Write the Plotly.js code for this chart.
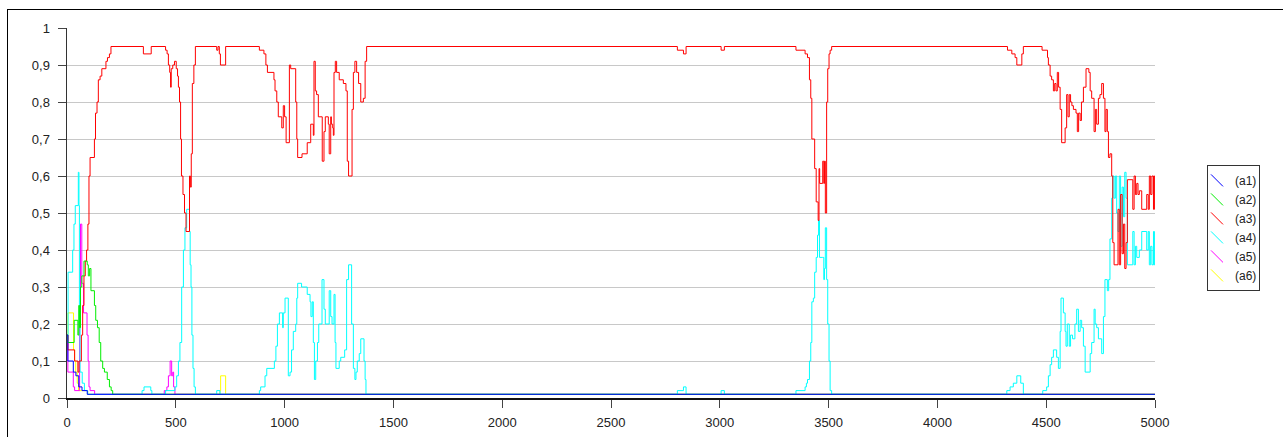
<!DOCTYPE html>
<html>
<head>
<meta charset="utf-8">
<script src="https://cdn.plot.ly/plotly-3.0.1.min.js"></script>
<style>
  html, body { margin: 0; padding: 0; background: #fff; overflow: hidden; }
  #wrap { position: relative; width: 1283px; height: 437px; }
  #chart { width: 1283px; height: 437px; }
  #frame { position: absolute; left: 7px; top: 9px; width: 1300px; height: 500px;
           border-left: 1.5px solid #000; border-top: 1.5px solid #000; pointer-events: none; }
</style>
</head>
<body>
<div id="wrap"><div id="chart"></div><div id="frame"></div></div>
<script>
// ---- data ----
const seriesNames = ['(a1)', '(a2)', '(a3)', '(a4)', '(a5)', '(a6)'];

const a1X = [0, 4, 29, 41, 54, 69, 93, 5000];
const a1Y = [0.17, 0.10, 0.07, 0.06, 0.03, 0.02, 0.01, 0.01];

const a2X = [0, 4, 33, 50, 54, 58, 62, 68, 78, 93, 98, 104, 110, 126, 132, 140, 148, 155, 164, 172, 185, 195, 203, 210, 5000];
const a2Y = [0.17, 0.15, 0.21, 0.17, 0.25, 0.19, 0.30, 0.33, 0.37, 0.36, 0.33, 0.35, 0.29, 0.25, 0.21, 0.19, 0.15, 0.10, 0.08, 0.07, 0.05, 0.03, 0.02, 0.01, 0.01];

const a3X = [0, 4, 35, 50, 55, 66, 72, 78, 84, 90, 96, 101, 106, 126, 131, 138, 144, 152, 160, 179, 186, 195, 202,
  351, 387, 453, 460, 466, 472, 476, 479, 486, 494, 502, 508, 512, 517, 522, 526, 533, 540, 547, 563, 567, 571, 576, 583, 590,
  688, 694, 700, 705, 729, 884, 905, 914, 921, 951, 956, 964, 971, 987, 994, 1000, 1007, 1022, 1028, 1051, 1056, 1060, 1080,
  1104, 1120, 1132, 1135, 1141, 1147, 1155, 1173, 1181, 1187, 1201, 1205, 1212, 1215, 1221, 1224, 1227, 1233, 1239, 1251,
  1270, 1282, 1288, 1294, 1310, 1316, 1323, 1331, 1340, 1350, 1362, 1370, 1377,
  2805, 2833, 2845, 3006, 3021,
  3350, 3392, 3403, 3412, 3418, 3423, 3436, 3443, 3452, 3456, 3459, 3473, 3478, 3481, 3485, 3491, 3496, 3502, 3507, 3514,
  4322, 4342, 4357, 4365, 4388, 4395, 4481, 4506, 4510, 4518, 4525, 4533, 4539, 4545, 4551, 4557, 4564, 4571, 4587, 4594,
  4600, 4606, 4612, 4618, 4625, 4637, 4643, 4649, 4656, 4662, 4671, 4683, 4696, 4702, 4709, 4720, 4726, 4732, 4740, 4747,
  4755, 4763, 4770, 4775, 4781, 4786, 4793, 4801, 4806, 4812, 4830, 4836, 4842, 4849, 4855, 4861, 4867, 4873, 4898, 4904,
  4910, 4916, 4922, 4928, 4939, 4962, 4969, 4974, 4980, 4986, 4993, 4997, 5000];
const a3Y = [0.17, 0.13, 0.10, 0.07, 0.10, 0.17, 0.25, 0.33, 0.37, 0.40, 0.47, 0.60, 0.65, 0.70, 0.77, 0.80, 0.86, 0.87, 0.89, 0.91, 0.92, 0.93, 0.95,
  0.93, 0.95, 0.94, 0.93, 0.90, 0.88, 0.84, 0.89, 0.90, 0.91, 0.89, 0.87, 0.84, 0.80, 0.70, 0.60, 0.55, 0.50, 0.45, 0.60, 0.57, 0.66, 0.85, 0.90, 0.95,
  0.94, 0.95, 0.93, 0.90, 0.95, 0.94, 0.93, 0.90, 0.88, 0.86, 0.83, 0.80, 0.76, 0.73, 0.79, 0.76, 0.69, 0.90, 0.89, 0.80, 0.70, 0.65, 0.66,
  0.69, 0.74, 0.71, 0.91, 0.83, 0.82, 0.76, 0.64, 0.72, 0.76, 0.74, 0.66, 0.76, 0.74, 0.73, 0.71, 0.88, 0.91, 0.88, 0.86,
  0.85, 0.83, 0.64, 0.60, 0.78, 0.88, 0.91, 0.88, 0.85, 0.80, 0.81, 0.91, 0.95,
  0.94, 0.93, 0.95, 0.94, 0.95,
  0.94, 0.93, 0.92, 0.86, 0.81, 0.70, 0.62, 0.53, 0.48, 0.62, 0.58, 0.64, 0.58, 0.64, 0.50, 0.80, 0.89, 0.93, 0.94, 0.95,
  0.94, 0.93, 0.92, 0.90, 0.93, 0.95, 0.94, 0.92, 0.90, 0.87, 0.86, 0.83, 0.85, 0.83, 0.88, 0.84, 0.78, 0.69, 0.73, 0.82,
  0.76, 0.82, 0.80, 0.79, 0.78, 0.77, 0.72, 0.77, 0.75, 0.80, 0.84, 0.89, 0.88, 0.83, 0.81, 0.72, 0.78, 0.74, 0.81, 0.82,
  0.85, 0.81, 0.72, 0.78, 0.72, 0.65, 0.66, 0.60, 0.42, 0.36, 0.51, 0.36, 0.55, 0.39, 0.47, 0.35, 0.42, 0.59, 0.51, 0.60,
  0.55, 0.58, 0.55, 0.56, 0.51, 0.55, 0.51, 0.60, 0.55, 0.60, 0.51, 0.60, 0.51];

const a4X = [0, 5, 26, 32, 38, 52, 55, 57, 60, 70, 80, 95,
  345, 354, 385, 390, 453, 496, 504, 512, 519, 527, 535, 542, 550, 563, 566, 570, 574, 579, 584, 590, 688, 703,
  884, 890, 910, 918, 953, 960, 967, 976, 991, 994, 1002, 1017, 1025, 1032, 1040, 1051, 1056, 1060, 1078, 1104, 1117, 1121,
  1127, 1132, 1137, 1143, 1151, 1157, 1172, 1181, 1187, 1205, 1212, 1218, 1227, 1232, 1236, 1251, 1258, 1276, 1285, 1294,
  1308, 1316, 1323, 1328, 1334, 1343, 1350, 1365, 1370, 1374,
  2805, 2833, 2845, 3006, 3021,
  3350, 3392, 3398, 3403, 3412, 3418, 3423, 3430, 3436, 3443, 3449, 3454, 3458, 3473, 3478, 3481, 3485, 3491, 3496, 3502, 3507, 3514,
  4319, 4334, 4349, 4365, 4383, 4395, 4484, 4502, 4510, 4518, 4525, 4533, 4548, 4556, 4564, 4568, 4579, 4587, 4591, 4597,
  4606, 4612, 4621, 4632, 4640, 4648, 4656, 4663, 4671, 4679, 4702, 4709, 4720, 4725, 4732, 4740, 4755, 4763, 4770, 4781,
  4787, 4793, 4801, 4806, 4812, 4818, 4824, 4830, 4836, 4842, 4849, 4855, 4861, 4867, 4873, 4898, 4904, 4910, 4916, 4928,
  4939, 4962, 4969, 4974, 4980, 4986, 4993, 4997, 5000];
const a4Y = [0.17, 0.34, 0.40, 0.47, 0.52, 0.61, 0.52, 0.20, 0.07, 0.04, 0.02, 0.01,
  0.02, 0.03, 0.02, 0.01, 0.02, 0.03, 0.06, 0.10, 0.15, 0.30, 0.40, 0.46, 0.51, 0.45, 0.36, 0.30, 0.17, 0.08, 0.03, 0.01, 0.02, 0.01,
  0.02, 0.03, 0.06, 0.08, 0.10, 0.14, 0.20, 0.23, 0.19, 0.23, 0.27, 0.06, 0.07, 0.13, 0.18, 0.20, 0.27, 0.31, 0.30, 0.28, 0.26, 0.22,
  0.26, 0.15, 0.05, 0.10, 0.15, 0.20, 0.32, 0.24, 0.20, 0.29, 0.22, 0.20, 0.28, 0.15, 0.08, 0.10, 0.11, 0.13, 0.32, 0.36,
  0.20, 0.08, 0.05, 0.07, 0.10, 0.12, 0.16, 0.10, 0.05, 0.01,
  0.02, 0.03, 0.01, 0.02, 0.01,
  0.02, 0.03, 0.04, 0.05, 0.10, 0.15, 0.26, 0.27, 0.34, 0.38, 0.44, 0.48, 0.38, 0.38, 0.32, 0.35, 0.46, 0.32, 0.20, 0.10, 0.02, 0.01,
  0.02, 0.03, 0.04, 0.06, 0.04, 0.01, 0.02, 0.03, 0.06, 0.09, 0.11, 0.13, 0.11, 0.08, 0.18, 0.27, 0.23, 0.18, 0.14, 0.20,
  0.14, 0.17, 0.16, 0.20, 0.24, 0.18, 0.21, 0.19, 0.14, 0.07, 0.12, 0.15, 0.24, 0.20, 0.19, 0.16, 0.12, 0.22, 0.32, 0.29,
  0.32, 0.43, 0.54, 0.60, 0.54, 0.60, 0.50, 0.45, 0.60, 0.41, 0.57, 0.49, 0.61, 0.54, 0.36, 0.45, 0.36, 0.41, 0.38, 0.40,
  0.45, 0.40, 0.45, 0.36, 0.41, 0.36, 0.45, 0.36, 0.45];

const a5X = [0, 4, 29, 35, 58, 62, 68, 76, 92, 97, 101, 106, 127, 447, 459, 466, 474, 481, 486, 490, 496, 5000];
const a5Y = [0.17, 0.07, 0.03, 0.02, 0.20, 0.47, 0.31, 0.23, 0.17, 0.10, 0.03, 0.02, 0.01, 0.02, 0.03, 0.06, 0.10, 0.06, 0.07, 0.03, 0.01, 0.01];

const a6X = [0, 4, 30, 35, 40, 47, 53, 95, 703, 706, 729, 5000];
const a6Y = [0.17, 0.23, 0.13, 0.10, 0.07, 0.04, 0.02, 0.01, 0.02, 0.06, 0.01, 0.01];

const xTickVals = [0, 500, 1000, 1500, 2000, 2500, 3000, 3500, 4000, 4500, 5000];
const xTickText = ['0', '500', '1000', '1500', '2000', '2500', '3000', '3500', '4000', '4500', '5000'];
const yTickVals = [0, 0.1, 0.2, 0.3, 0.4, 0.5, 0.6, 0.7, 0.8, 0.9, 1];
const yTickText = ['0', '0,1', '0,2', '0,3', '0,4', '0,5', '0,6', '0,7', '0,8', '0,9', '1'];

// ---- styling ----
const seriesColors = ['#0000ff', '#00ee00', '#ff0000', '#00ffff', '#ff00ff', '#ffff00'];
const xs = [a1X, a2X, a3X, a4X, a5X, a6X];
const ys = [a1Y, a2Y, a3Y, a4Y, a5Y, a6Y];

const traces = [];
for (let i = seriesNames.length - 1; i >= 0; i--) {
  traces.push({
    type: 'scatter', mode: 'lines', name: seriesNames[i],
    x: xs[i], y: ys[i],
    line: { color: seriesColors[i], width: 1, shape: 'hv' },
    hoverinfo: 'skip'
  });
}

const font = { family: 'Liberation Sans, Arial, sans-serif', size: 13, color: '#222' };

const layout = {
  width: 1283, height: 437,
  margin: { l: 67, r: 128, t: 28, b: 39, pad: 0, autoexpand: false },
  paper_bgcolor: '#fff', plot_bgcolor: '#fff',
  font: font,
  showlegend: true,
  legend: {
    x: 1.0478, y: 0.63, xanchor: 'left', yanchor: 'top',
    traceorder: 'reversed',
    bgcolor: '#fff', bordercolor: '#333', borderwidth: 1,
    font: { family: 'Liberation Sans, Arial, sans-serif', size: 12, color: '#222' },
    itemwidth: 30, tracegroupgap: 0
  },
  xaxis: {
    range: [0, 5000], tickmode: 'array', tickvals: xTickVals, ticktext: xTickText,
    showgrid: false, zeroline: false,
    showline: true, linecolor: '#111', linewidth: 1.5,
    ticks: 'outside', ticklen: 8, tickwidth: 1, tickcolor: '#444',
    ticklabelstandoff: 4, tickfont: font, fixedrange: true
  },
  yaxis: {
    range: [0, 1], tickmode: 'array', tickvals: yTickVals, ticktext: yTickText,
    showgrid: true, gridcolor: '#c8c8c8', gridwidth: 1, zeroline: false,
    showline: true, linecolor: '#333', linewidth: 1.5,
    ticks: 'outside', ticklen: 8, tickwidth: 1, tickcolor: '#444',
    ticklabelstandoff: 5, tickfont: font, fixedrange: true
  }
};

Plotly.newPlot('chart', traces, layout, { staticPlot: true, displayModeBar: false }).then(function (gd) {
  // make legend samples diagonal and compact, as in the reference
  const legend = gd.querySelector('.legend');
  if (!legend) return;
  legend.querySelectorAll('.legendlines path').forEach(function (p) {
    p.setAttribute('d', 'M3,-6L15,6');
  });
  legend.querySelectorAll('text.legendtext').forEach(function (t) {
    t.setAttribute('x', '27');
  });
  const bg = legend.querySelector('rect.bg');
  if (bg) bg.setAttribute('width', '52');
});
</script>
</body>
</html>
